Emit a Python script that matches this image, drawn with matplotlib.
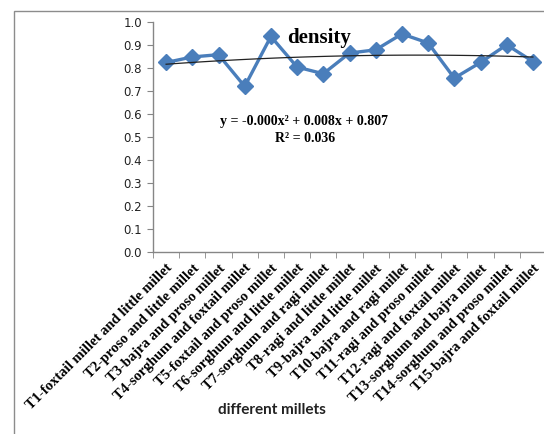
import numpy as np
import matplotlib
matplotlib.use("Agg")
import matplotlib.pyplot as plt
from matplotlib.patches import Rectangle

millets = [
    "T1-foxtail millet and little millet",
    "T2-proso and little millet",
    "T3-bajra and proso millet",
    "T4-sorghum and foxtail millet",
    "T5-foxtail and proso millet",
    "T6-sorghum and little millet",
    "T7-sorghum and ragi millet",
    "T8-ragi and little millet",
    "T9-bajra and little millet",
    "T10-bajra and ragi millet",
    "T11-ragi and proso millet",
    "T12-ragi and foxtail millet",
    "T13-sorghum and bajra millet",
    "T14-sorghum and proso millet",
    "T15-bajra and foxtail millet",
]
density = [0.824, 0.848, 0.858, 0.72, 0.937, 0.804, 0.775, 0.865,
           0.879, 0.948, 0.909, 0.756, 0.824, 0.901, 0.828]
yticks = [0.0, 0.1, 0.2, 0.3, 0.4, 0.5, 0.6, 0.7, 0.8, 0.9, 1.0]

W, H = 544, 434
fig = plt.figure(figsize=(W / 100, H / 100), dpi=100)

# chart frame (runs off the right and bottom edges)
fig.patches.append(Rectangle((14 / W, -0.1), 1.2, (H - 11) / H + 0.1,
                             transform=fig.transFigure, fill=False,
                             edgecolor="#8c8c8c", linewidth=1.0))

ax = fig.add_axes([153 / W, (H - 252) / H, (546 - 153) / W, (252 - 22) / H])

x = np.arange(len(density))
ax.plot(x, density, color="#4a7ebb", linewidth=2.4, marker="D",
        markersize=8, markerfacecolor="#4a7ebb", markeredgecolor="#4a7ebb",
        zorder=3)

# second order polynomial trendline
coef = np.polyfit(x + 1, density, 2)
xt = np.linspace(0, len(density) - 1, 100)
ax.plot(xt, np.polyval(coef, xt + 1), color="#222222", linewidth=0.9, zorder=4)

ax.set_xlim(-0.5, len(density) - 0.5)
ax.set_ylim(0, 1.0)

for s in ["top", "right"]:
    ax.spines[s].set_visible(False)
for s in ["left", "bottom"]:
    ax.spines[s].set_color("#868686")
    ax.spines[s].set_linewidth(1.0)

ax.set_yticks(yticks)
ax.set_yticklabels([f"{v:.1f}" for v in yticks], fontsize=8.5, color="#222222")
ax.tick_params(axis="y", length=4, color="#868686", pad=4)

ax.set_xticks(x)
ax.set_xticklabels(millets, rotation=45, ha="right", rotation_mode="anchor",
                   fontsize=10.5, fontweight="bold", family="Liberation Serif")
ax.set_xticks(np.arange(-0.5, len(density)), minor=True)
ax.tick_params(axis="x", which="major", length=0, pad=7)
ax.tick_params(axis="x", which="minor", length=4, color="#868686")

fig.text(272 / W, 1 - 410 / H, "different millets", ha="center", va="center",
         fontsize=11, fontweight="bold", family="Lato", color="#222222")
fig.text(319 / W, 1 - 38 / H, "density", ha="center", va="center",
         fontsize=15, fontweight="bold", family="Liberation Serif")
fig.text(304 / W, 1 - 121 / H, "y = -0.000x² + 0.008x + 0.807", ha="center",
         va="center", fontsize=10, fontweight="bold", family="Liberation Serif")
fig.text(305 / W, 1 - 138 / H, "R² = 0.036", ha="center", va="center",
         fontsize=10, fontweight="bold", family="Liberation Serif")

fig.savefig("out.png", dpi=100)
